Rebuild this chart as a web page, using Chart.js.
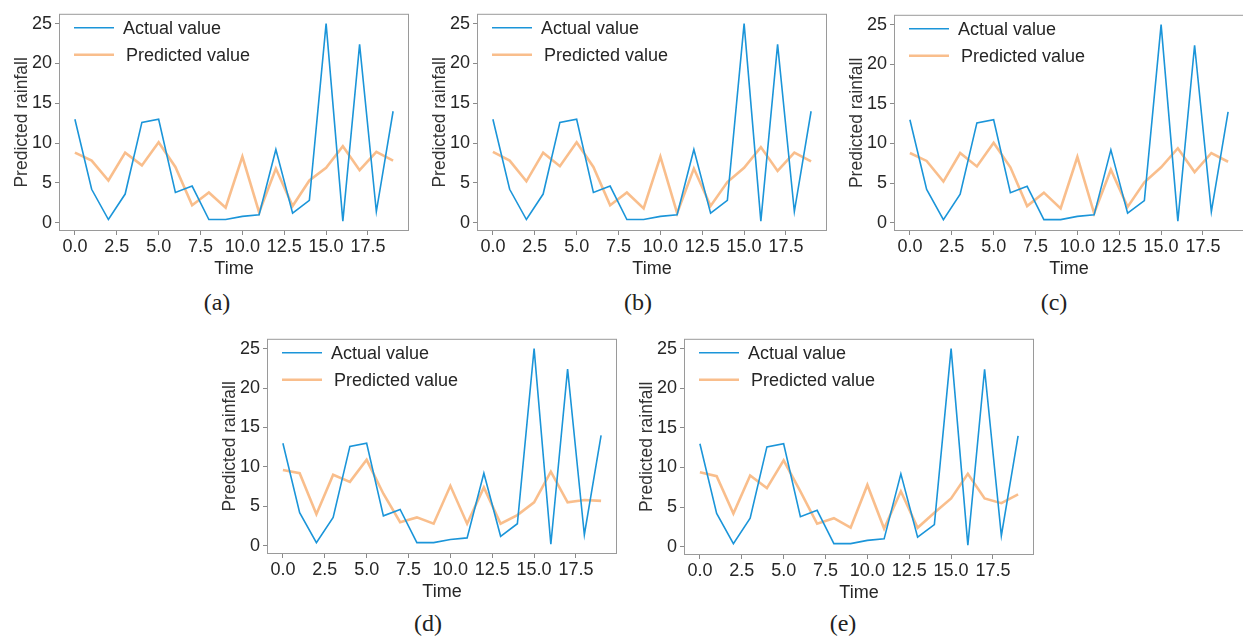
<!DOCTYPE html>
<html>
<head>
<meta charset="utf-8">
<script src="https://cdn.jsdelivr.net/npm/chart.js@4.4.1/dist/chart.umd.min.js"></script>
<style>
    body { margin: 0; background: #fff; width: 1243px; height: 641px; overflow: hidden; position: relative; }
    .panel { position: absolute; }
    .caption {
        position: absolute;
        font-family: 'Liberation Serif', 'Times New Roman', serif;
        font-size: 24px;
        color: #222;
        transform: translate(-50%, -50%);
    }
</style>
</head>
<body>
<div id="figure"></div>
<script>
// data
const timeSteps = [0, 1, 2, 3, 4, 5, 6, 7, 8, 9, 10, 11, 12, 13, 14, 15, 16, 17, 18, 19];
const actualValues = [13.0, 4.2, 0.4, 3.6, 12.6, 13.0, 3.8, 4.6, 0.4, 0.4, 0.8, 1.0, 9.2, 1.2, 2.8, 25.0, 0.2, 22.4, 1.4, 14.0];
const predictedA = [8.8, 7.8, 5.3, 8.8, 7.2, 10.1, 7.0, 2.2, 3.8, 1.9, 8.3, 1.3, 6.8, 2.1, 5.3, 6.9, 9.6, 6.6, 8.9, 7.8];
const predictedB = [8.9, 7.8, 5.2, 8.8, 7.1, 10.1, 7.0, 2.2, 3.8, 1.8, 8.3, 1.2, 6.8, 2.1, 5.1, 6.9, 9.5, 6.5, 8.8, 7.7];
const predictedC = [8.8, 7.8, 5.2, 8.8, 7.1, 10.1, 7.0, 2.1, 3.8, 1.8, 8.3, 1.2, 6.7, 2.0, 5.1, 7.0, 9.4, 6.4, 8.8, 7.7];
const predictedD = [9.6, 9.2, 4.0, 9.0, 8.1, 10.9, 6.6, 3.0, 3.6, 2.8, 7.6, 2.8, 7.4, 2.8, 3.9, 5.5, 9.4, 5.5, 5.8, 5.7];
const predictedE = [9.4, 8.9, 4.2, 9.0, 7.4, 10.9, 7.0, 2.9, 3.6, 2.4, 7.8, 2.3, 7.0, 2.4, 4.3, 6.1, 9.2, 6.1, 5.5, 6.6];

const xTickValues = [0, 2.5, 5, 7.5, 10, 12.5, 15, 17.5];
const xTickLabels = ['0.0', '2.5', '5.0', '7.5', '10.0', '12.5', '15.0', '17.5'];
const yTickValues = [0, 5, 10, 15, 20, 25];
const yTickLabels = ['0', '5', '10', '15', '20', '25'];
const seriesLabels = ['Actual value', 'Predicted value'];
const panelNames = ['(a)', '(b)', '(c)', '(d)', '(e)'];
const panelPredicted = [predictedA, predictedB, predictedC, predictedD, predictedE];

// layout: plot area boxes [left, top, right, bottom] and caption centres
const plotBoxes = [
    [59, 13, 409, 231],
    [477, 13, 827, 231],
    [894, 14, 1244, 231],
    [267, 338, 617, 554],
    [684, 338, 1034, 555],
];
const captionSpots = [[217, 302], [638, 302], [1054, 302], [428, 623], [843, 623]];

const Y_AXIS_W = 59;
const X_AXIS_H = 50;
const PAD_TOP = 13;
const PAD_RIGHT = 11;
const textColor = '#262626';
const sansFont = "'Liberation Sans', Arial, sans-serif";

const toPoints = (ys) => timeSteps.map((t, i) => ({ x: t, y: ys[i] }));

// frame round the plot area and a legend drawn inside it, top left
const framePlugin = {
    id: 'frameLegend',
    afterDraw(chart) {
        const { ctx, chartArea: a } = chart;
        ctx.save();
        ctx.strokeStyle = '#9a9a9a';
        ctx.lineWidth = 1;
        ctx.strokeRect(a.left + 0.5, a.top + 0.5, a.right - a.left - 1, a.bottom - a.top - 1);

        const rowY = [14, 41];
        const textX = [64, 67];
        ctx.font = '18px ' + sansFont;
        ctx.textBaseline = 'middle';
        chart.data.datasets.forEach((ds, i) => {
            const y = a.top + rowY[i];
            ctx.strokeStyle = ds.borderColor;
            ctx.lineWidth = ds.borderWidth;
            ctx.beginPath();
            ctx.moveTo(a.left + 15, y);
            ctx.lineTo(a.left + 55, y);
            ctx.stroke();
            ctx.fillStyle = textColor;
            ctx.fillText(ds.label, a.left + textX[i], y + 1);
        });
        ctx.restore();
    }
};

const figure = document.getElementById('figure');

plotBoxes.forEach((box, p) => {
    const [l, t, r, b] = box;
    const w = (r - l) + Y_AXIS_W + PAD_RIGHT;
    const h = (b - t) + PAD_TOP + X_AXIS_H;

    const wrap = document.createElement('div');
    wrap.className = 'panel';
    wrap.style.left = (l - Y_AXIS_W) + 'px';
    wrap.style.top = (t - PAD_TOP) + 'px';
    const canvas = document.createElement('canvas');
    canvas.width = w;
    canvas.height = h;
    canvas.style.width = w + 'px';
    canvas.style.height = h + 'px';
    wrap.appendChild(canvas);
    figure.appendChild(wrap);

    const cap = document.createElement('div');
    cap.className = 'caption';
    cap.style.left = captionSpots[p][0] + 'px';
    cap.style.top = captionSpots[p][1] + 'px';
    cap.textContent = panelNames[p];
    figure.appendChild(cap);

    new Chart(canvas, {
        type: 'line',
        data: {
            datasets: [
                {
                    label: seriesLabels[0],
                    data: toPoints(actualValues),
                    borderColor: '#1b95d9',
                    borderWidth: 1.6,
                    pointRadius: 0,
                    tension: 0,
                },
                {
                    label: seriesLabels[1],
                    data: toPoints(panelPredicted[p]),
                    borderColor: 'rgba(245, 150, 70, 0.62)',
                    borderWidth: 2.6,
                    pointRadius: 0,
                    tension: 0,
                },
            ],
        },
        options: {
            responsive: false,
            animation: false,
            devicePixelRatio: 1,
            layout: { padding: { top: PAD_TOP, right: PAD_RIGHT, left: 0, bottom: 0 } },
            plugins: {
                legend: { display: false },
                tooltip: { enabled: false },
            },
            scales: {
                x: {
                    type: 'linear',
                    min: -0.95,
                    max: 19.95,
                    afterBuildTicks: (s) => { s.ticks = xTickValues.map((v) => ({ value: v })); },
                    afterFit: (s) => { s.height = X_AXIS_H; },
                    ticks: {
                        autoSkip: false,
                        maxRotation: 0,
                        padding: 1,
                        color: textColor,
                        font: { family: sansFont, size: 18 },
                        callback: (v) => xTickLabels[xTickValues.indexOf(v)],
                    },
                    grid: { drawOnChartArea: false, tickLength: 4, color: '#8a8a8a' },
                    border: { display: false },
                    title: {
                        display: true,
                        text: 'Time',
                        color: textColor,
                        font: { family: sansFont, size: 18 },
                        padding: { top: 0, bottom: 1 },
                    },
                },
                y: {
                    min: -1.04,
                    max: 26.24,
                    afterBuildTicks: (s) => { s.ticks = yTickValues.map((v) => ({ value: v })); },
                    afterFit: (s) => { s.width = Y_AXIS_W; },
                    ticks: {
                        padding: 3,
                        color: textColor,
                        font: { family: sansFont, size: 18 },
                        callback: (v) => yTickLabels[yTickValues.indexOf(v)],
                    },
                    grid: { drawOnChartArea: false, tickLength: 4, color: '#8a8a8a' },
                    border: { display: false },
                    title: {
                        display: true,
                        text: 'Predicted rainfall',
                        color: '#333',
                        font: { family: sansFont, size: 17.5 },
                        padding: { top: 12, bottom: 0 },
                    },
                },
            },
        },
        plugins: [framePlugin],
    });
});
</script>
</body>
</html>
